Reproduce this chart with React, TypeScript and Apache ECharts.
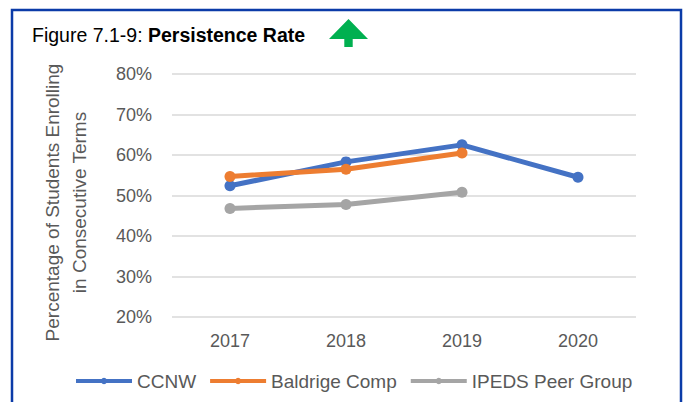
import React, { useEffect, useRef } from "react";
import * as echarts from "echarts";

const years = ["2017", "2018", "2019", "2020"];
const ccnw = [52.4, 58.3, 62.5, 54.5];
const baldrige = [54.7, 56.5, 60.5, null];
const ipeds = [46.8, 47.8, 50.8, null];
const seriesNames = ["CCNW", "Baldrige Comp", "IPEDS Peer Group"];
const seriesColors = ["#4472C4", "#ED7D31", "#A5A5A5"];

const FONT = "'Liberation Sans', Arial, sans-serif";

export default function App() {
  const ref = useRef<HTMLDivElement>(null);
  useEffect(() => {
    if (!ref.current) return;
    const chart = echarts.init(ref.current, undefined, { renderer: "svg" });
    const datas = [ccnw, baldrige, ipeds];
    chart.setOption({
      animation: false,
      textStyle: { fontFamily: FONT },
      grid: { left: 172, right: 47, top: 74, bottom: 85, containLabel: false },
      xAxis: {
        type: "category",
        data: years,
        boundaryGap: true,
        axisLine: { show: false },
        axisTick: { show: false },
        axisLabel: { color: "#595959", fontSize: 18, margin: 15, fontFamily: FONT },
      },
      yAxis: {
        type: "value",
        min: 20,
        max: 80,
        interval: 10,
        axisLine: { show: false },
        axisTick: { show: false },
        axisLabel: {
          color: "#595959",
          fontSize: 18,
          margin: 20,
          fontFamily: FONT,
          formatter: "{value}%",
        },
        splitLine: { lineStyle: { color: "#D9D9D9", width: 1.5 } },
      },
      legend: {
        bottom: 6.5,
        left: 69,
        itemWidth: 56,
        itemHeight: 8,
        itemGap: 12,
        lineStyle: { width: 4 },
        textStyle: { color: "#595959", fontSize: 19, fontFamily: FONT },
        data: seriesNames,
      },
      series: seriesNames.map((name, i) => ({
        name,
        type: "line",
        data: datas[i],
        color: seriesColors[i],
        symbol: "circle",
        symbolSize: 11,
        lineStyle: { width: 5, color: seriesColors[i] },
        itemStyle: { color: seriesColors[i] },
      })),
      graphic: [
        {
          type: "rect",
          shape: { x: 12, y: 10, width: 669, height: 420 },
          style: { fill: "none", stroke: "#0B3BA8", lineWidth: 2.5 },
          silent: true,
        },
        {
          type: "text",
          x: 32,
          y: 35,
          style: {
            text: "{n|Figure 7.1-9: }{b|Persistence Rate}",
            verticalAlign: "middle",
            rich: {
              n: { fontSize: 19.5, fontFamily: FONT, fill: "#000" },
              b: { fontSize: 19.5, fontFamily: FONT, fontWeight: "bold", fill: "#000" },
            },
          },
        },
        {
          type: "polygon",
          shape: {
            points: [
              [348.5, 19],
              [368, 39],
              [352.7, 39],
              [352.7, 47],
              [344.3, 47],
              [344.3, 39],
              [329, 39],
            ],
          },
          style: { fill: "#00B050" },
        },
        {
          type: "text",
          x: 65.5,
          y: 202.5,
          rotation: Math.PI / 2,
          style: {
            text: "Percentage of Students Enrolling\nin Consecutive Terms",
            fontSize: 19,
            fontFamily: FONT,
            fill: "#595959",
            align: "center",
            verticalAlign: "middle",
            lineHeight: 27,
          },
        },
      ],
    });
    return () => chart.dispose();
  }, []);
  return <div ref={ref} style={{ width: 683, height: 402, position: "absolute", left: 0, top: 0 }} />;
}
